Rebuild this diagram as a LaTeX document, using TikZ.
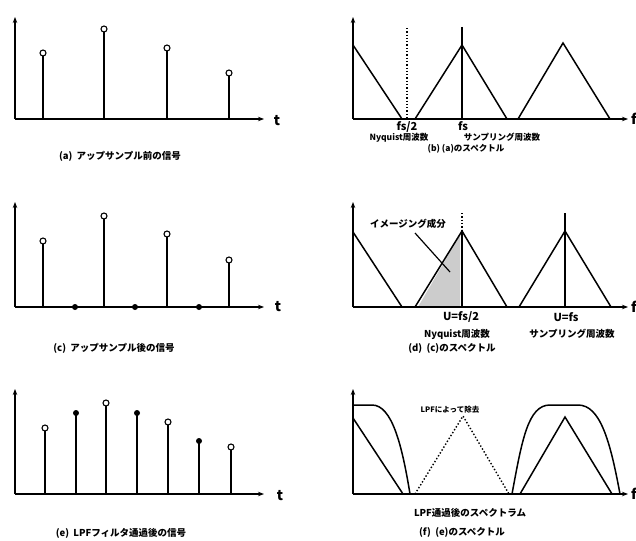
\documentclass[tikz,border=0pt]{standalone}
\usepackage{fontspec}
\newfontfamily\jp{Noto Sans CJK JP}
\usetikzlibrary{arrows.meta}
\begin{document}
\begin{tikzpicture}[x=1pt,y=-1pt,
  axis/.style={line width=1.5pt,-{Stealth[length=6pt,width=4.5pt]}},
  stem/.style={line width=1.5pt},
  spec/.style={line width=1.5pt},
  opendot/.style={circle,draw,line width=1.1pt,fill=white,inner sep=0pt,minimum size=6pt},
  filldot/.style={circle,fill=black,inner sep=0pt,minimum size=6pt},
  captxt/.style={font=\jp\bfseries\fontsize{9.5}{10}\selectfont,inner sep=0pt},
  tighttxt/.style={font=\jp\bfseries\fontsize{8.5}{9}\selectfont,inner sep=0pt},
  smalltxt/.style={font=\jp\bfseries\fontsize{7.5}{8}\selectfont,inner sep=0pt},
  lbl/.style={font=\jp\bfseries\fontsize{11}{12}\selectfont,inner sep=0pt},
  axl/.style={font=\jp\bfseries\fontsize{14}{15}\selectfont,inner sep=0pt}]
\useasboundingbox (0,0) rectangle (636,540);
% ---------- (a)
\coordinate (oa) at (15,119);
\draw[axis] (oa) -- (15,17);
\draw[axis] (oa) -- (264,119);
\node[axl] (ta) at (277,121) {t};
\foreach \x/\y [count=\i] in {43/53,104/29,167/48,229/73}{
  \draw[stem] (\x,119) -- (\x,\y);
  \node[opendot] (a\i) at (\x,\y) {};}
\node[captxt] (capa) at (120,156) {(a)\ \ アップサンプル前の信号};
% ---------- (b)
\coordinate (ob) at (353,119);
\draw[axis] (ob) -- (353,17);
\draw[axis] (ob) -- (628,119);
\node[axl] (fb) at (634,119) {f};
\draw[spec] (353,45) -- (402,119);
\draw[line width=1.3pt,dotted] (407,28) -- (407,119);
\draw[spec] (415,119) -- (462,45) -- (507,119);
\draw[spec] (462,27) -- (462,119);
\draw[spec] (518,119) -- (563,43) -- (610,119);
\node[lbl,anchor=base] (fs2b) at (407,131) {fs/2};
\node[lbl,anchor=base] (fsb) at (463,131) {fs};
\node[tighttxt,anchor=base] (nyb) at (399,141) {Nyquist周波数};
\node[tighttxt,anchor=base] (smb) at (502,141) {サンプリング周波数};
\node[tighttxt,anchor=base] (capb) at (466,152) {(b) (a)のスペクトル};
% ---------- (c)
\coordinate (oc) at (15,307);
\draw[axis] (oc) -- (15,202);
\draw[axis] (oc) -- (264,307);
\node[axl] (tc) at (278,307) {t};
\foreach \x/\y [count=\i] in {43/241,104/216,167/234,229/260}{
  \draw[stem] (\x,307) -- (\x,\y);
  \node[opendot] (c\i) at (\x,\y) {};}
\foreach \x [count=\i] in {75,135,199}{
  \node[filldot] (cz\i) at (\x,307) {};}
\node[captxt] (capc) at (114,348) {(c)\ \ アップサンプル後の信号};
% ---------- (d)
\coordinate (od) at (353,307);
\fill[gray!40] (418,307) -- (460,235) -- (460,307) -- cycle;
\draw[axis] (od) -- (353,202);
\draw[axis] (od) -- (628,307);
\node[axl] (fd) at (634,307) {f};
\draw[spec] (353,232) -- (402,307);
\draw[spec] (415,307) -- (462,231) -- (507,307);
\draw[line width=1.3pt,dotted] (462,213) -- (462,231);
\draw[spec] (462,231) -- (462,307);
\draw[spec] (519,307) -- (565,231) -- (611,307);
\draw[spec] (565,213) -- (565,307);
\node[captxt] (img) at (408,224) {イメージング成分};
\draw[line width=1.2pt] (415,233) -- (450,272);
\node[lbl] (u1) at (461,317) {U=fs/2};
\node[lbl] (u2) at (566,317) {U=fs};
\node[captxt] (nyd) at (457,334) {Nyquist周波数};
\node[captxt] (smd) at (572,334) {サンプリング周波数};
\node[captxt] (capd) at (452,348) {(d)\ \ (c)のスペクトル};
% ---------- (e)
\coordinate (oe) at (15,494);
\draw[axis] (oe) -- (15,389);
\draw[axis] (oe) -- (264,494);
\node[axl] (te) at (280,496) {t};
\foreach \x/\y/\s [count=\i] in {45/428/opendot,76/413/filldot,106/403/opendot,137/413/filldot,168/422/opendot,199/441/filldot,231/447/opendot}{
  \draw[stem] (\x,494) -- (\x,\y);
  \node[\s] (e\i) at (\x,\y) {};}
\node[captxt] (cape) at (121,533) {(e)\ \ LPFフィルタ通過後の信号};
% ---------- (f)
\coordinate (of) at (353,494);
\draw[axis] (of) -- (353,389);
\draw[axis] (of) -- (628,494);
\node[axl] (ff) at (634,494) {f};
\draw[spec] (353,405) -- (372,405) .. controls (392,405) and (402,445) .. (410,494);
\draw[spec] (353,418) -- (403,494);
\draw[line width=1.4pt,dotted] (415,494) -- (463,416) -- (509,494);
\draw[spec] (512,494) .. controls (522,440) and (528,405) .. (550,405) -- (578,405) .. controls (600,405) and (610,440) .. (620,494);
\draw[spec] (520,494) -- (565,417) -- (612,494);
\node[smalltxt] (lpfr) at (450,410) {LPFによって除去};
\node[captxt] (lpfs) at (470,513) {LPF通過後のスペクトラム};
\node[captxt] (capf) at (462,532) {(f)\ \ (e)のスペクトル};
\end{tikzpicture}
\end{document}
